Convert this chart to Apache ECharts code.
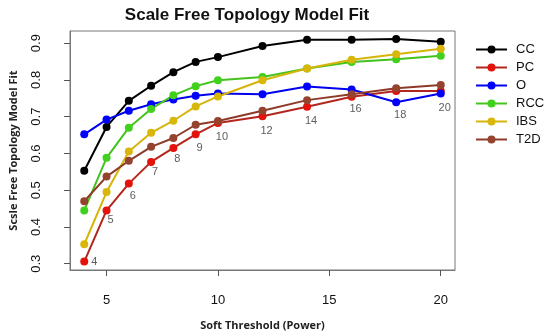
<!DOCTYPE html>
<html>
<head>
<meta charset="utf-8">
<script src="https://cdn.jsdelivr.net/npm/echarts@6/dist/echarts.min.js"></script>
<style>html,body{margin:0;padding:0;background:#fff}#c{width:550px;height:336px}</style>
</head>
<body>
<div id="c"></div>
<script>
const powers = [4, 5, 6, 7, 8, 9, 10, 12, 14, 16, 18, 20];
const CC  = [0.553, 0.672, 0.743, 0.784, 0.821, 0.849, 0.862, 0.892, 0.909, 0.909, 0.911, 0.904];
const PC  = [0.306, 0.445, 0.518, 0.577, 0.615, 0.652, 0.683, 0.701, 0.727, 0.754, 0.770, 0.770];
const O   = [0.652, 0.692, 0.716, 0.734, 0.747, 0.757, 0.763, 0.761, 0.782, 0.774, 0.739, 0.763];
const RCC = [0.445, 0.588, 0.670, 0.721, 0.758, 0.783, 0.799, 0.808, 0.831, 0.849, 0.856, 0.866];
const IBS = [0.353, 0.495, 0.605, 0.656, 0.689, 0.728, 0.755, 0.799, 0.831, 0.855, 0.870, 0.885];
const T2D = [0.470, 0.537, 0.580, 0.618, 0.642, 0.678, 0.688, 0.716, 0.745, 0.761, 0.777, 0.786];
// vertical positions of the power labels
const labelY = [0.306, 0.418, 0.483, 0.549, 0.584, 0.615, 0.645, 0.660, 0.688, 0.721, 0.705, 0.723];
const xTicks = [5, 10, 15, 20];
const yTicks = [0.3, 0.4, 0.5, 0.6, 0.7, 0.8, 0.9];

const seriesDefs = [
  {name: 'CC',  data: CC,  line: '#000000', mark: '#000000'},
  {name: 'PC',  data: PC,  line: '#b3261e', mark: '#e3120b'},
  {name: 'O',   data: O,   line: '#0000ee', mark: '#0000ff'},
  {name: 'RCC', data: RCC, line: '#45c21c', mark: '#3fd11c'},
  {name: 'IBS', data: IBS, line: '#d6b40a', mark: '#d9b70a'},
  {name: 'T2D', data: T2D, line: '#8e3a28', mark: '#94432e'}
];

const series = seriesDefs.map(s => ({
  name: s.name,
  type: 'line',
  data: powers.map((p, i) => [p, s.data[i]]),
  symbol: 'circle',
  symbolSize: 8,
  lineStyle: {color: s.line, width: 2},
  itemStyle: {color: s.mark},
  z: 3
}));
series.push({
  name: 'labels',
  type: 'scatter',
  data: powers.map((p, i) => (i === 0
    ? {value: [p, labelY[i]], label: {offset: [10, 0]}}
    : {value: [p, labelY[i]]})),
  symbolSize: 0,
  silent: true,
  label: {
    show: true,
    position: 'inside',
    offset: [4, 0],
    formatter: p => String(p.value[0]),
    color: '#333',
    fontSize: 11,
    fontFamily: 'Liberation Sans'
  }
});

const chart = echarts.init(document.getElementById('c'), null, {renderer: 'canvas'});
chart.setOption({
  animation: false,
  backgroundColor: '#fff',
  title: {
    text: 'Scale Free Topology Model Fit',
    left: 242, top: 2, textAlign: 'center',
    textStyle: {fontFamily: 'Liberation Sans', fontWeight: 'bold', fontSize: 17, color: '#111'}
  },
  legend: {
    data: seriesDefs.map(s => s.name),
    orient: 'vertical',
    left: 470, top: 38,
    itemWidth: 31, itemHeight: 10, itemGap: 5,
    textStyle: {fontFamily: 'Liberation Sans', fontSize: 13, color: '#111', padding: [0, 0, 0, 4]}
  },
  grid: {
    left: 63.5, right: 95, top: 31, bottom: 63,
    show: true, borderColor: '#777', borderWidth: 1
  },
  xAxis: {
    type: 'value', min: 3.36, max: 20.64,
    name: 'Soft Threshold (Power)', nameLocation: 'middle', nameGap: 50,
    nameTextStyle: {fontFamily: 'Open Sans', fontWeight: 'bold', fontSize: 11, color: '#222'},
    axisLine: {show: true, onZero: false, lineStyle: {color: '#777'}},
    axisTick: {show: true, customValues: xTicks, length: 6, lineStyle: {color: '#555'}},
    axisLabel: {customValues: xTicks, margin: 24, fontFamily: 'Liberation Sans', fontSize: 13, color: '#111'},
    splitLine: {show: false}
  },
  yAxis: {
    type: 'value', min: 0.283, max: 0.933,
    name: 'Scsle Free Topology Model Fit', nameLocation: 'middle', nameGap: 51,
    nameTextStyle: {fontFamily: 'Open Sans', fontWeight: 'bold', fontSize: 11, color: '#222'},
    axisLine: {show: true, onZero: false, lineStyle: {color: '#777'}},
    axisTick: {show: true, customValues: yTicks, length: 6, lineStyle: {color: '#555'}},
    axisLabel: {customValues: yTicks, rotate: 90, margin: 27, fontFamily: 'Liberation Sans', fontSize: 13, color: '#111',
      formatter: v => v.toFixed(1)},
    splitLine: {show: false}
  },
  series: series
});
</script>
</body>
</html>
